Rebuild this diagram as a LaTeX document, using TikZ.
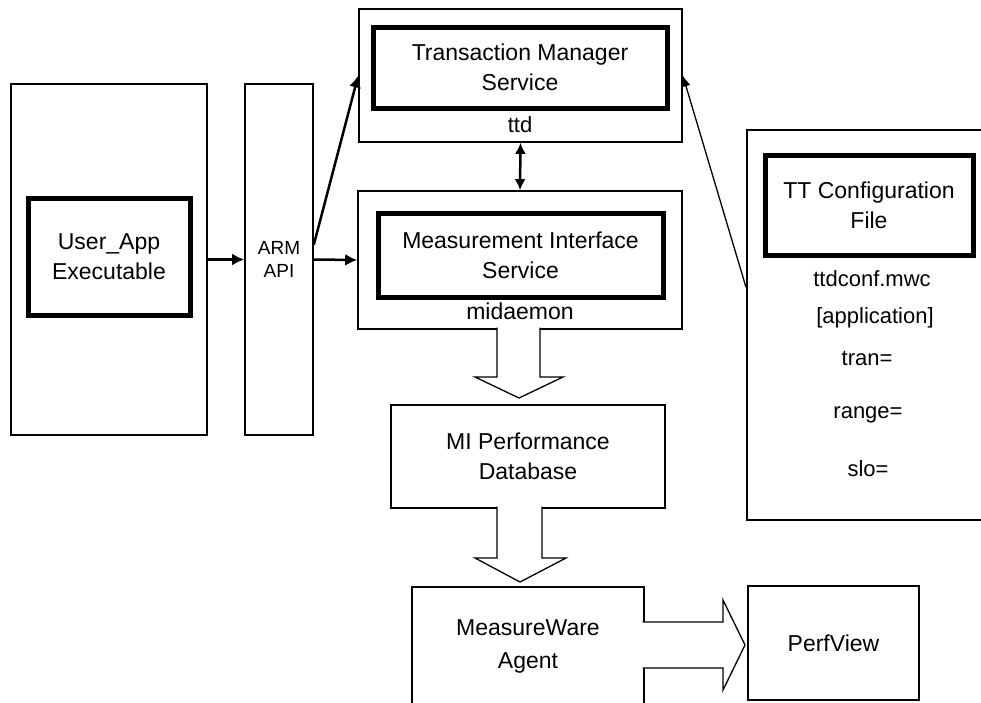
\documentclass[tikz,border=0pt]{standalone}
\usepackage{fontspec}
\setmainfont{Liberation Sans}
\usetikzlibrary{arrows.meta}

\begin{document}
\begin{tikzpicture}[x=1pt,y=-1pt,
    every node/.style={font=\fontsize{23}{30}\selectfont, align=center},
    box/.style={draw, line width=1.6pt, inner sep=0pt},
    core/.style={draw, line width=5pt, inner sep=0pt},
    call/.style={line width=2.5pt, -{Latex[length=12pt,width=12pt]}},
    hint/.style={line width=1.3pt, -{Latex[length=11pt,width=9pt]}},
    flow/.style={draw, line width=1.3pt, fill=white}]
  \useasboundingbox (0,0) rectangle (981,702);
  \clip (0,0) rectangle (981,702);
  % application side
  \node[box, minimum width=196, minimum height=351] (appbox) at (109,259.5) {};
  \node[core, minimum width=162, minimum height=117] (app) at (109,256.5) {User\_App\\Executable};
  \node[box, minimum width=68, minimum height=351,
        font=\fontsize{19}{23}\selectfont] (arm) at (279,259.5) {ARM\\API};
  % services
  \node[box, minimum width=323, minimum height=133] (tmsbox) at (520.5,75.5) {};
  \node[core, minimum width=294, minimum height=81] (tms) at (520,67.5) {Transaction Manager\\Service};
  \node[font=\fontsize{22}{26}\selectfont] (ttd) at (520,125) {ttd};
  \node[box, minimum width=324, minimum height=138] (misbox) at (520,260) {};
  \node[core, minimum width=285, minimum height=84] (mis) at (520.5,255) {Measurement Interface\\Service};
  \node (midaemon) at (520,311) {midaemon};
  % database and agents
  \node[box, minimum width=274, minimum height=103] (db) at (528,456.5) {MI Performance\\Database};
  \node[box, minimum width=232, minimum height=118, font=\fontsize{23}{33}\selectfont] (mwa) at (528,646) {MeasureWare\\Agent};
  \node[box, minimum width=171, minimum height=114] (pv) at (833.5,643) {PerfView};
  % configuration file
  \node[box, minimum width=260, minimum height=390, anchor=north west] (cfgbox) at (746,129) {};
  \node[core, minimum width=208, minimum height=100] (cfg) at (869,205) {TT Configuration\\File};
  \foreach \txt/\xx/\yy/\id in {ttdconf.mwc/872/279/cfgname, {[application]}/875/318/cfgsec,
      tran=/867/358/cfgtran, range=/868/415/cfgrange, slo=/868/469/cfgslo}
    \node[font=\fontsize{22}{26}\selectfont] (\id) at (\xx,\yy) {\txt};
  % connectors
  \draw[call] (appbox.east) -- (arm.west);
  \draw[call] (arm.east) -- (misbox.west);
  \draw[call] (arm.23) -- (tmsbox.west);
  \draw[call, {Latex[length=11pt,width=11pt]}-{Latex[length=11pt,width=11pt]}] (tmsbox.south) -- (misbox.north);
  \draw[hint] (cfgbox.164) -- (tmsbox.east);
  % block arrows
  \draw[flow] (497,327.5) -- (497,377) -- (475,377) -- (519,398) -- (563,377) -- (540,377) -- (540,327.5);
  \draw[flow] (497,506.5) -- (497,558) -- (475,558) -- (520,582) -- (566,558) -- (542,558) -- (542,506.5);
  \draw[flow] (642.5,622) -- (723,622) -- (723,600) -- (745,645) -- (723,690) -- (723,668) -- (642.5,668);
\end{tikzpicture}
\end{document}
